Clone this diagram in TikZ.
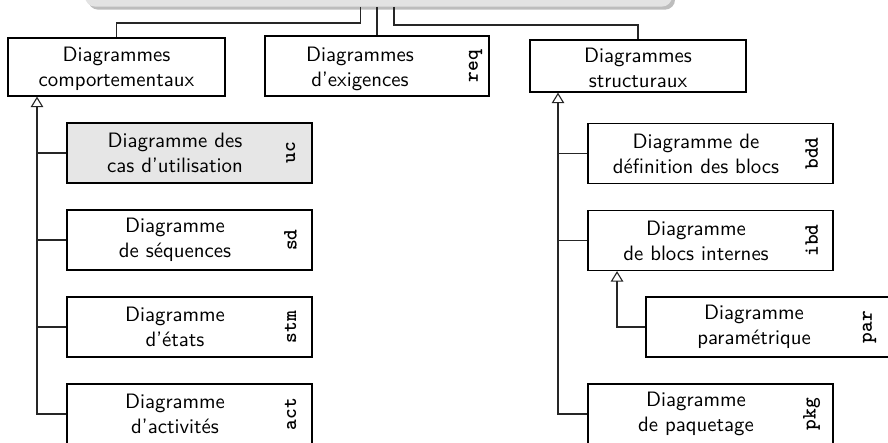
\documentclass[tikz,border=0pt]{standalone}
\usepackage{fontspec}
\usetikzlibrary{arrows.meta,shadows}
\definecolor{topfill}{HTML}{E3E3E3}
\definecolor{topshadow}{HTML}{BDBDBD}
\definecolor{ucfill}{HTML}{E6E6E6}
\begin{document}
\begin{tikzpicture}[x=0.49pt,y=-0.49pt,
  dbox/.style={draw=black, line width=0.6pt, minimum width=120.05pt, minimum height=29.4pt, inner sep=0pt},
  hbox/.style={draw=black, line width=0.6pt, inner sep=0pt},
  mtext/.style={font=\sffamily\fontsize{10.2}{12.3}\selectfont, align=center, inner sep=0pt},
  lbl/.style={font=\ttfamily\bfseries, rotate=90, inner sep=0pt},
  conn/.style={draw=black!85, line width=0.55pt},
  inh/.style={conn, -{Triangle[open, length=5.2pt, width=6.2pt]}}]
\useasboundingbox (0,0) rectangle (888,443);
\clip (0,0) rectangle (888,443);
% top box
\node[fill=topfill, rounded corners=4.9pt, minimum width=287.6pt, minimum height=32pt, inner sep=0pt, anchor=south,
  drop shadow={shadow xshift=1.5pt, shadow yshift=-1.5pt, opacity=1, fill=topshadow}] (top) at (378.5,7) {};
% level 1
\node[hbox, minimum width=106.3pt, minimum height=28.4pt] (comp) at (116.5,67) {};
\node[mtext] at (116.5,69) {Diagrammes\\comportementaux};
\node[hbox, minimum width=109.8pt, minimum height=29.4pt] (exig) at (377,66) {};
\node[mtext] at (360,69) {Diagrammes\\d’exigences};
\node[lbl] at ([xshift=-6.9pt]exig.east) {req};
\node[hbox, minimum width=105.8pt, minimum height=25.5pt] (struct) at (638,66) {};
\node[mtext] at (638,68) {Diagrammes\\structuraux};
% left column
\node[dbox, fill=ucfill] (uc) at (189.5,153) {};
\node[mtext] at ([xshift=-7.1pt]uc.center) {Diagramme des\\cas d’utilisation};
\node[lbl] at ([xshift=-10.8pt]uc.east) {uc};
\node[dbox] (sd) at (189.5,240) {};
\node[mtext] at ([xshift=-7.1pt]sd.center) {Diagramme\\de séquences};
\node[lbl] at ([xshift=-10.8pt]sd.east) {sd};
\node[dbox] (stm) at (189.5,327) {};
\node[mtext] at ([xshift=-7.1pt]stm.center) {Diagramme\\d’états};
\node[lbl] at ([xshift=-10.8pt]stm.east) {stm};
\node[dbox] (act) at (189.5,414) {};
\node[mtext] at ([xshift=-7.1pt]act.center) {Diagramme\\d’activités};
\node[lbl] at ([xshift=-10.8pt]act.east) {act};
% right column
\node[dbox] (bdd) at (710.5,153.5) {};
\node[mtext] at ([xshift=-7.1pt]bdd.center) {Diagramme de\\définition des blocs};
\node[lbl] at ([xshift=-10.8pt]bdd.east) {bdd};
\node[dbox] (ibd) at (710.5,240.5) {};
\node[mtext] at ([xshift=-7.1pt]ibd.center) {Diagramme\\de blocs internes};
\node[lbl] at ([xshift=-10.8pt]ibd.east) {ibd};
\node[dbox] (par) at (768.5,327) {};
\node[mtext] at ([xshift=-7.1pt]par.center) {Diagramme\\paramétrique};
\node[lbl] at ([xshift=-10.8pt]par.east) {par};
\node[dbox] (pkg) at (710.5,414) {};
\node[mtext] at ([xshift=-7.1pt]pkg.center) {Diagramme\\de paquetage};
\node[lbl] at ([xshift=-10.8pt]pkg.east) {pkg};
% connectors from top
\coordinate (tc) at (top.south -| exig.north);
\draw[conn] ([xshift=-8.3pt]tc) -- ++(0,16) -| (comp.north);
\draw[conn] (tc) -- (exig.north);
\draw[conn] ([xshift=8.3pt]tc) -- ++(0,18) -| (struct.north);
% inheritance spines
\coordinate (cs) at ([xshift=-38.95pt]comp.south);
\draw[inh] (act.west) -| (cs);
\draw[conn] (uc.west) -- (uc.west -| cs);
\draw[conn] (sd.west) -- (sd.west -| cs);
\draw[conn] (stm.west) -- (stm.west -| cs);
\coordinate (ss) at ([xshift=-39.2pt]struct.south);
\draw[inh] (pkg.west) -| (ss);
\draw[conn] (bdd.west) -- (bdd.west -| ss);
\draw[conn] (ibd.west) -- (ibd.west -| ss);
\coordinate (is) at ([xshift=-45.8pt]ibd.south);
\draw[inh] (par.west) -| (is);
\end{tikzpicture}
\end{document}
